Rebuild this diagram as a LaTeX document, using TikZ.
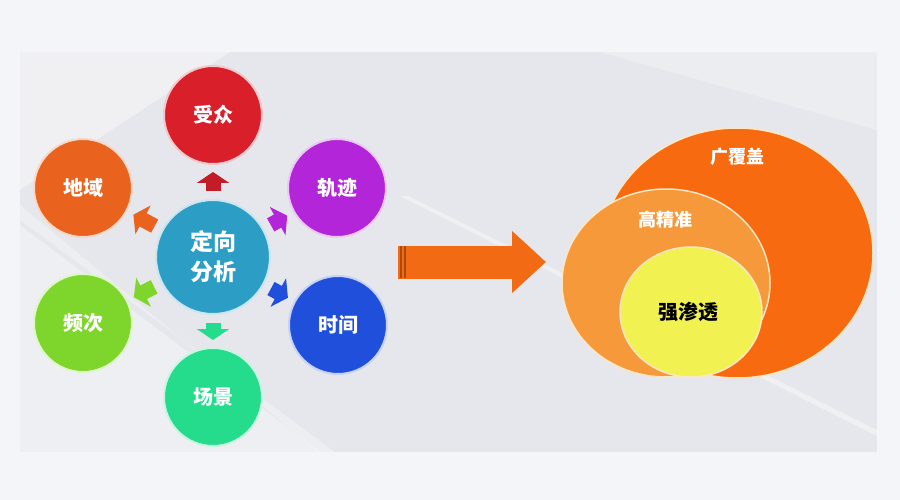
\documentclass[tikz,border=0pt]{standalone}
\usepackage{fontspec}
\newfontfamily\cjk{Noto Sans CJK SC}
\usetikzlibrary{arrows.meta,shapes.geometric}
\definecolor{PageGray}{HTML}{F4F5F8}
\definecolor{PanelGray}{HTML}{E6E7EC}
\definecolor{HubTeal}{HTML}{2C9DC4}
\definecolor{AudRed}{HTML}{D81F2A}
\definecolor{RegOrange}{HTML}{E9621E}
\definecolor{TrackPurple}{HTML}{B325D8}
\definecolor{TimeBlue}{HTML}{1F4FDB}
\definecolor{FreqLime}{HTML}{7ED62C}
\definecolor{SceneGreen}{HTML}{25DB8C}
\definecolor{BigOrange}{HTML}{F36A14}
\definecolor{WideOrange}{HTML}{F86A10}
\definecolor{PreciseOrange}{HTML}{F6993A}
\definecolor{DeepYellow}{HTML}{F1F252}
\definecolor{RimCream}{HTML}{FCE7C4}
\tikzstyle{topicNode}=[circle,line width=2pt,minimum size=98pt,inner sep=0pt,text=white,font=\cjk\bfseries\fontsize{20}{22}\selectfont]
\tikzstyle{hubNode}=[topicNode,fill=HubTeal,draw=HubTeal!25,minimum size=114pt,font=\cjk\bfseries\fontsize{23}{30}\selectfont,align=center]
\tikzstyle{dirArrow}=[-{Triangle[width=32pt,length=11pt]}, line width=15pt, shorten <=8pt, shorten >=7pt]
\tikzstyle{bigArrow}=[-{Triangle[width=60pt,length=34pt]}, line width=33pt, BigOrange]
\tikzstyle{ringNode}=[ellipse,draw=RimCream,line width=1.5pt,inner sep=0pt]
\tikzstyle{invisNode}=[inner sep=0pt,text=white,font=\cjk\bfseries\fontsize{18}{20}\selectfont]

\begin{document}
\begin{tikzpicture}[x=1pt,y=-1pt]
    \useasboundingbox (0,0) rectangle (900,500);
    % Background
    \fill[PageGray] (0,0) rectangle (900,500);
    \fill[PanelGray] (20,52) rectangle (877,452);
    \fill[white,opacity=0.4] (20,52) -- (230,52) -- (20,190) -- cycle;
    \fill[white,opacity=0.35] (20,225) -- (320,452) -- (20,452) -- cycle;
    \fill[white,opacity=0.3] (20,205) -- (20,220) -- (335,452) -- (318,452) -- cycle;
    \fill[white,opacity=0.25] (600,52) -- (877,52) -- (877,130) -- cycle;
    \fill[white,opacity=0.4] (400,196) -- (408,196) -- (877,430) -- (877,436) -- cycle;

    % Targeting circles
    \node[hubNode] (hub) at (213,257) {定向\\分析};
    \node[topicNode,fill=AudRed,draw=AudRed!25] (audience) at (213,115) {受众};
    \node[topicNode,fill=RegOrange,draw=RegOrange!25] (region) at (83,188) {地域};
    \node[topicNode,fill=TrackPurple,draw=TrackPurple!25] (track) at (337,188) {轨迹};
    \node[topicNode,fill=TimeBlue,draw=TimeBlue!25] (timing) at (338,325) {时间};
    \node[topicNode,fill=FreqLime,draw=FreqLime!25] (freq) at (83,323) {频次};
    \node[topicNode,fill=SceneGreen,draw=SceneGreen!25] (scene) at (213,397) {场景};

    \draw[dirArrow,AudRed!90!black] (hub) -- (audience);
    \draw[dirArrow,RegOrange] (hub) -- (region);
    \draw[dirArrow,TrackPurple] (hub) -- (track);
    \draw[dirArrow,TimeBlue] (hub) -- (timing);
    \draw[dirArrow,FreqLime] (hub) -- (freq);
    \draw[dirArrow,SceneGreen] (hub) -- (scene);

    % Big arrow
    \coordinate (arrowTail) at (398,262);
    \coordinate (arrowTip) at (546,262);
    \draw[bigArrow] (arrowTail) -- (arrowTip);
    \foreach \sx in {401,405}
        \draw[line width=1.2pt,BigOrange!70!black] (\sx,246) -- (\sx,278);

    % Coverage rings
    \node[ringNode,fill=WideOrange,minimum width=272pt,minimum height=250pt] (wide) at (737,253) {};
    \node[ringNode,fill=PreciseOrange,minimum width=208pt,minimum height=188pt] (precise) at (666,283) {};
    \node[ringNode,fill=DeepYellow,minimum width=142pt,minimum height=130pt] (deep) at (691,312) {};
    \node[invisNode] (wideText) at (737,157) {广覆盖};
    \node[invisNode] (preciseText) at (665,220) {高精准};
    \node[invisNode,text=black,font=\cjk\bfseries\fontsize{20}{22}\selectfont] (deepText) at (688,312) {强渗透};
\end{tikzpicture}
\end{document}
